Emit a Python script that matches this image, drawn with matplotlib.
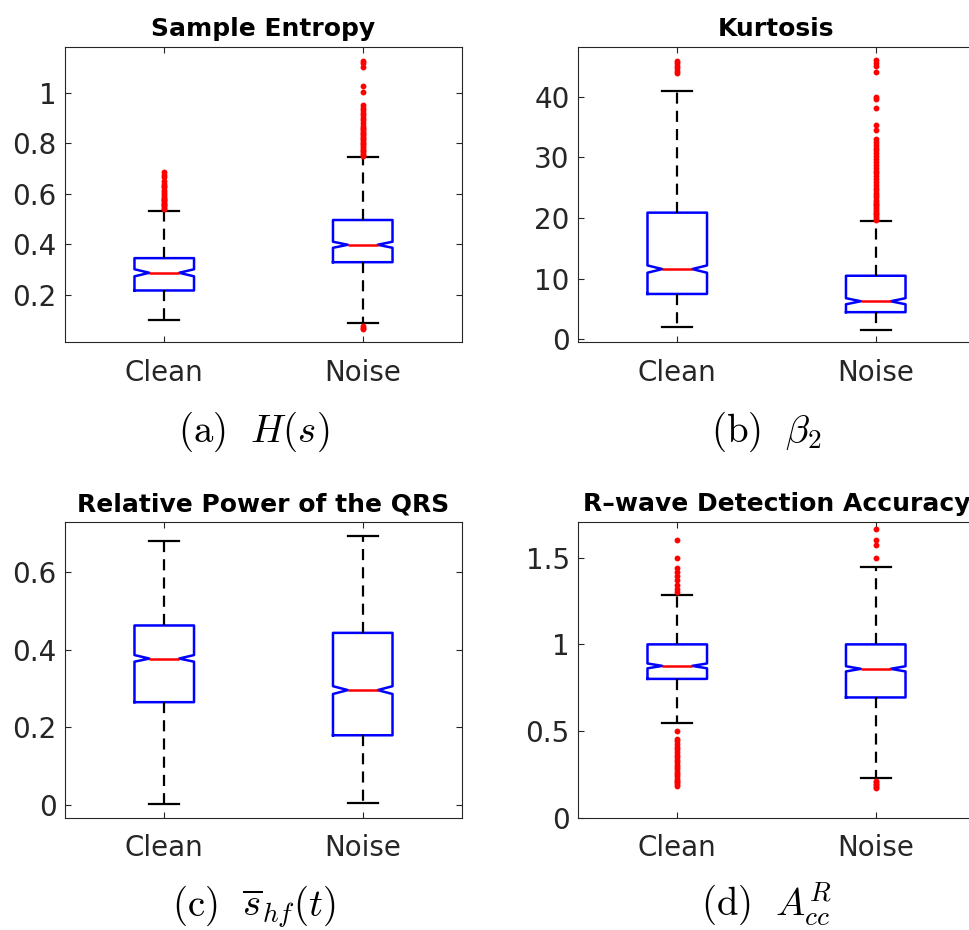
import matplotlib
matplotlib.use("Agg")
import matplotlib.pyplot as plt
from matplotlib.ticker import FuncFormatter

plt.rcParams["font.family"] = ["DejaVu Sans"]
plt.rcParams["mathtext.fontset"] = "cm"

groups = ["Clean", "Noise"]

# box summaries: [whisker low, q1, median, q3, whisker high], notch: [ci low, ci high]
se_clean_box = [0.100, 0.217, 0.287, 0.345, 0.533]
se_clean_notch = [0.273, 0.301]
se_clean_out = [0.540, 0.545, 0.550, 0.555, 0.560, 0.565, 0.570, 0.575, 0.580, 0.585,
                0.590, 0.600, 0.605, 0.615, 0.625, 0.630, 0.640, 0.650, 0.665, 0.675, 0.685]
se_noise_box = [0.087, 0.329, 0.398, 0.496, 0.745]
se_noise_notch = [0.386, 0.410]
se_noise_out = [0.065, 0.070, 0.075,
                0.750, 0.755, 0.760, 0.770, 0.775, 0.780, 0.790, 0.795, 0.800, 0.810, 0.815,
                0.820, 0.830, 0.835, 0.840, 0.850, 0.855, 0.860, 0.870, 0.880, 0.890, 0.900,
                0.910, 0.920, 0.930, 0.940, 0.950, 1.004, 1.027, 1.103, 1.118, 1.127]

ku_clean_box = [2.1, 7.5, 11.6, 20.9, 41.0]
ku_clean_notch = [11.0, 12.2]
ku_clean_out = [43.9, 44.3, 44.7, 45.1, 45.5, 45.9]
ku_noise_box = [1.6, 4.5, 6.3, 10.5, 19.6]
ku_noise_notch = [5.8, 6.8]
ku_noise_out = [19.7, 20.0, 20.3, 20.6, 20.9, 21.2, 21.5, 21.8, 22.1, 22.4, 22.7, 23.0,
                23.4, 23.8, 24.2, 24.6, 25.0, 25.5, 26.0, 26.5, 27.0, 27.4, 27.8, 28.3,
                28.8, 29.3, 29.7, 30.2, 30.7, 31.2, 31.6, 32.0, 32.5, 33.0, 34.5, 35.4,
                38.2, 39.7, 40.0, 44.0, 45.1, 45.6, 46.0]

rp_clean_box = [0.003, 0.265, 0.377, 0.462, 0.679]
rp_clean_notch = [0.369, 0.386]
rp_clean_out = []
rp_noise_box = [0.007, 0.180, 0.296, 0.443, 0.692]
rp_noise_notch = [0.286, 0.306]
rp_noise_out = []

ra_clean_box = [0.547, 0.801, 0.876, 1.000, 1.287]
ra_clean_notch = [0.862, 0.890]
ra_clean_out = [0.182, 0.195, 0.205, 0.215, 0.225, 0.240, 0.255, 0.265, 0.280, 0.295,
                0.305, 0.320, 0.335, 0.350, 0.365, 0.380, 0.395, 0.410, 0.425, 0.440,
                0.455, 0.498, 1.300, 1.320, 1.345, 1.370, 1.395, 1.420, 1.440, 1.500, 1.601]
ra_noise_box = [0.230, 0.694, 0.859, 1.000, 1.444]
ra_noise_notch = [0.844, 0.874]
ra_noise_out = [0.172, 0.180, 0.188, 0.196, 0.205, 0.215, 1.500, 1.575, 1.600, 1.666]

titles = ["Sample Entropy", "Kurtosis", "Relative Power of the QRS",
          "R\u2013wave Detection Accuracy"]
captions = [r"$\mathrm{(a)}\ \ H(s)$", r"$\mathrm{(b)}\ \ \beta_2$",
            r"$\mathrm{(c)}\ \ \overline{s}_{hf}(t)$", r"$\mathrm{(d)}\ \ A^R_{cc}$"]

panels = [
    (se_clean_box, se_clean_notch, se_clean_out, se_noise_box, se_noise_notch, se_noise_out),
    (ku_clean_box, ku_clean_notch, ku_clean_out, ku_noise_box, ku_noise_notch, ku_noise_out),
    (rp_clean_box, rp_clean_notch, rp_clean_out, rp_noise_box, rp_noise_notch, rp_noise_out),
    (ra_clean_box, ra_clean_notch, ra_clean_out, ra_noise_box, ra_noise_notch, ra_noise_out),
]
ylims = [(0.011, 1.181), (-0.5, 48.2), (-0.032, 0.727), (0.0, 1.704)]
yticks = [[0.2, 0.4, 0.6, 0.8, 1.0], [0, 10, 20, 30, 40], [0, 0.2, 0.4, 0.6], [0, 0.5, 1.0, 1.5]]


def make_stats(box, notch, out, label):
    return {
        "whislo": box[0], "q1": box[1], "med": box[2], "q3": box[3], "whishi": box[4],
        "cilo": notch[0], "cihi": notch[1], "fliers": out, "label": label,
    }


fig = plt.figure(figsize=(9.7, 9.3), dpi=100)
W, H = 970, 930
ax_rects = [(65, 47), (578, 47), (65, 522.3), (578, 522.3)]
ax_w, ax_h = 397, 295.5
cap_x = [254, 766.7, 254, 766.7]
cap_y = [441.7, 441.7, 916, 916]

dark = "#262626"
for i, (left, top) in enumerate(ax_rects):
    ax = fig.add_axes([left / W, 1 - (top + ax_h) / H, ax_w / W, ax_h / H])
    cb, cn, co, nb, nn, no = panels[i]
    stats = [make_stats(cb, cn, co, groups[0]), make_stats(nb, nn, no, groups[1])]
    ax.bxp(
        stats,
        positions=[1, 2],
        widths=0.3,
        shownotches=True,
        boxprops=dict(color="blue", linewidth=1.8),
        whiskerprops=dict(color="black", linewidth=1.6, linestyle=(0, (5, 3.2))),
        capprops=dict(color="black", linewidth=1.6),
        medianprops=dict(color="red", linewidth=1.8),
        flierprops=dict(marker="o", markerfacecolor="red", markeredgecolor="red",
                        markersize=3.2, linestyle="none"),
    )
    ax.set_xlim(0.5, 2.5)
    ax.set_ylim(*ylims[i])
    ax.set_yticks(yticks[i])
    ax.yaxis.set_major_formatter(FuncFormatter(lambda v, p: f"{v:g}"))
    ax.set_xticks([1, 2])
    ax.set_xticklabels(groups)
    ax.tick_params(axis="both", direction="in", length=4, width=0.8, color=dark,
                   labelcolor=dark, labelsize=20, top=True, right=True)
    ax.tick_params(axis="x", pad=12)
    ax.tick_params(axis="y", pad=6)
    for sp in ax.spines.values():
        sp.set_color(dark)
        sp.set_linewidth(0.8)
    ax.set_title(titles[i], fontsize=18, fontweight="bold", pad=8)
    fig.text(cap_x[i] / W, 1 - cap_y[i] / H, captions[i], fontsize=28,
             ha="center", va="baseline")

fig.savefig("out.png", dpi=100)
